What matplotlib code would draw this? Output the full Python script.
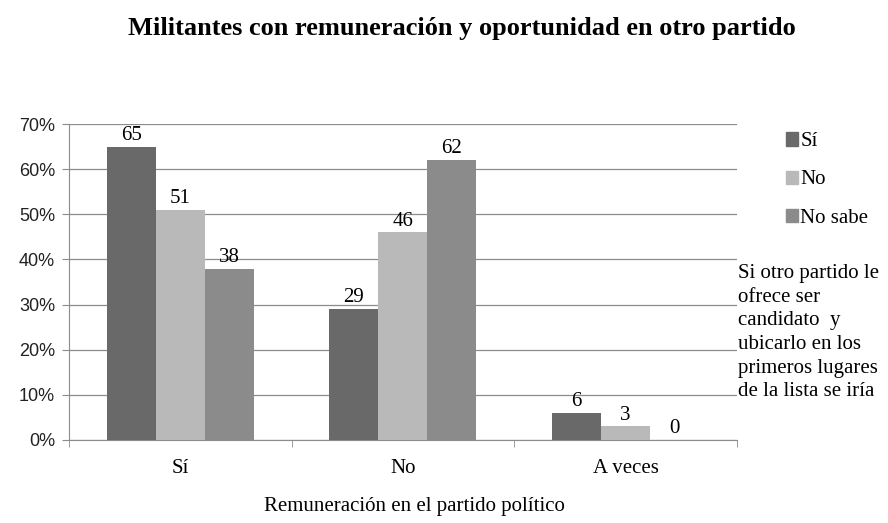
import matplotlib.pyplot as plt
import matplotlib.patches as mpatches
import numpy as np

# data
categories = ['Sí', 'No', 'A veces']
series_names = ['Sí', 'No', 'No sabe']
si_vals = [65, 29, 6]
no_vals = [51, 46, 3]
nosabe_vals = [38, 62, 0]
y_ticks = [0, 10, 20, 30, 40, 50, 60, 70]

colors = ['#696969', '#B9B9B9', '#8B8B8B']
serif = 'Liberation Serif'

fig = plt.figure(figsize=(8.88, 5.23), dpi=100, facecolor='white')
ax = fig.add_axes([0.0777, 0.1587, 0.752, 0.604])

x = np.arange(len(categories))
width = 0.22
all_vals = [si_vals, no_vals, nosabe_vals]
for i, (vals, col) in enumerate(zip(all_vals, colors)):
    bars = ax.bar(x + (i - 1) * width, vals, width, color=col, zorder=3)
    for bar, v in zip(bars, vals):
        ax.text(bar.get_x() + bar.get_width() / 2, v + 0.4, str(v),
                ha='center', va='bottom', fontsize=15, family=serif, zorder=4)

ax.set_xlim(-0.5, 2.5)
ax.set_ylim(0, 70)
ax.set_yticks(y_ticks)
ax.set_yticklabels([f'{t}%' for t in y_ticks], fontsize=13, family='Liberation Sans',
                   color='#222222')
ax.yaxis.grid(True, color='#8c8c8c', linewidth=0.9, zorder=0)
ax.set_xticks(x)
ax.set_xticklabels(categories, fontsize=15, family=serif)
ax.tick_params(axis='x', length=0, pad=14)
ax.tick_params(axis='y', length=5, color='#8c8c8c', pad=5)
# category separator ticks
ax.set_xticks([-0.5, 0.5, 1.5, 2.5], minor=True)
ax.tick_params(axis='x', which='minor', length=5, color='#8c8c8c')

for s in ['top', 'right']:
    ax.spines[s].set_visible(False)
ax.spines['left'].set_color('#8c8c8c')
ax.spines['bottom'].set_color('#8c8c8c')

fig.text(0.52, 0.946, 'Militantes con remuneración y oportunidad en otro partido',
         ha='center', va='center', fontsize=19, fontweight='bold', family=serif)
fig.text(0.467, 0.032, 'Remuneración en el partido político',
         ha='center', va='center', fontsize=15, family=serif)

handles = [mpatches.Patch(color=c, label=n) for c, n in zip(colors, series_names)]
fig.legend(handles=handles, loc='upper left', bbox_to_anchor=(0.885, 0.747),
           frameon=False, prop={'family': serif, 'size': 15}, borderpad=0, borderaxespad=0,
           handlelength=0.6, handleheight=0.6, handletextpad=0.1, labelspacing=0.92)

fig.text(0.831, 0.495, 'Si otro partido le\nofrece ser\ncandidato  y\nubicarlo en los\nprimeros lugares\nde la lista se iría',
         ha='left', va='top', fontsize=15, family=serif, linespacing=1.33)

plt.savefig('out.png', dpi=100, facecolor='white')
